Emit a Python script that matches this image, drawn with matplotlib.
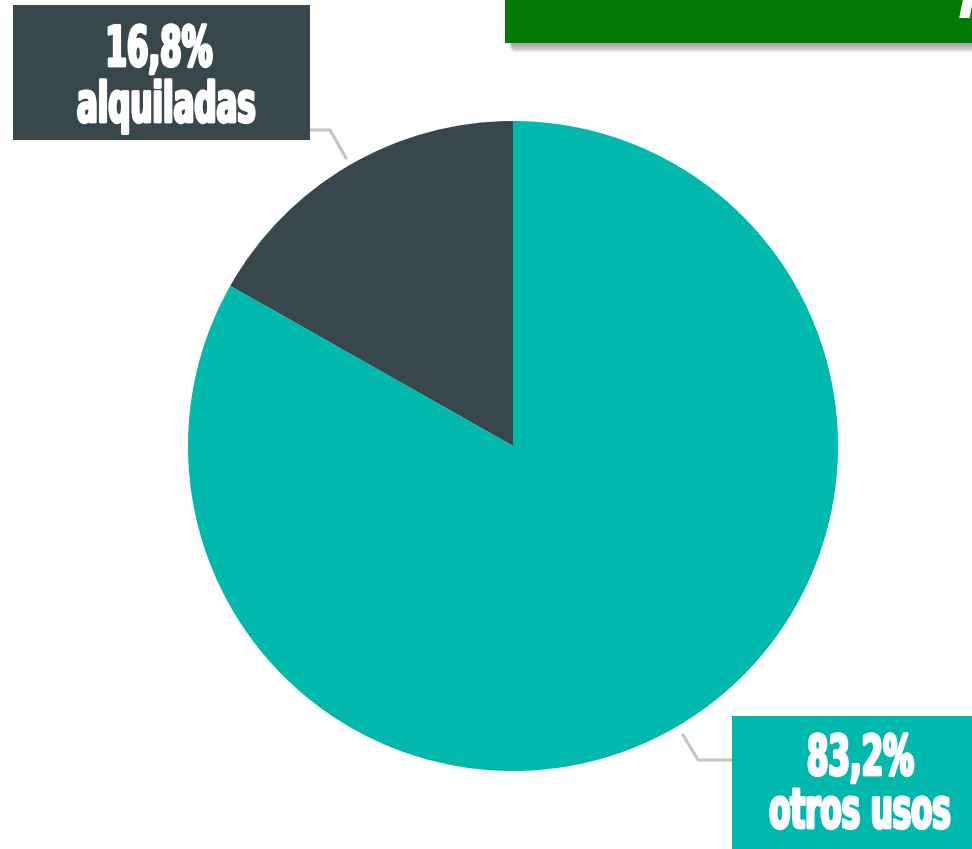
import matplotlib
matplotlib.use("Agg")
import matplotlib.pyplot as plt
from matplotlib.patches import Rectangle
from matplotlib.transforms import Affine2D
import matplotlib.patheffects as pe

labels = ["alquiladas", "otros usos"]
shares = [16.8, 83.2]
colors = ["#37474B", "#00B8AC"]
banner_color = "#007A00"

W, H = 972, 849
fig = plt.figure(figsize=(W / 100, H / 100), dpi=100)
ax = fig.add_axes([0, 0, 1, 1])


def Y(py):
    return H - py


class Condensed(pe.AbstractPathEffect):
    """Squeeze glyph outlines horizontally (around each line's centre) and embolden them."""

    def __init__(self, sx=0.58, sy=1.0, stroke=1.2):
        super().__init__()
        self.sx, self.sy, self.stroke = sx, sy, stroke

    def draw_path(self, renderer, gc, tpath, affine, rgbFace=None):
        ext = tpath.get_extents()
        cx = (ext.x0 + ext.x1) / 2
        squeeze = Affine2D().translate(-cx, 0).scale(self.sx, self.sy).translate(cx, 0)
        gc0 = renderer.new_gc()
        gc0.copy_properties(gc)
        gc0.set_linewidth(self.stroke)
        gc0.set_foreground(rgbFace if rgbFace is not None else "white")
        gc0.set_joinstyle("round")
        renderer.draw_path(gc0, tpath, squeeze + affine, rgbFace)
        gc0.restore()


# pie
ax.pie(shares, colors=colors, startangle=90, counterclock=True,
       center=(513, Y(446)), radius=325, frame=True,
       wedgeprops=dict(linewidth=0))
ax.set_xlim(0, W)
ax.set_ylim(0, H)
ax.axis("off")

# header banner with soft shadow
for i in range(10):
    ax.add_patch(Rectangle((505 + 3 + i * 0.5, Y(43) - 2 - i * 0.9), W, 43,
                           color="#000000", alpha=0.04, lw=0, zorder=4))
ax.add_patch(Rectangle((505, Y(43)), W - 505, 43, color=banner_color, lw=0, zorder=5))
ax.text(958, Y(18), "I", family="DejaVu Sans", weight="bold", style="italic",
        fontsize=40, color="white", ha="left", va="baseline", zorder=6,
        clip_on=True)

# leader lines
line_kw = dict(color="#C4C4C4", lw=2.2, solid_joinstyle="miter", zorder=3)
ax.plot([346, 330, 300], [Y(158), Y(130), Y(130)], **line_kw)
ax.plot([683, 698, 740], [Y(735), Y(760), Y(760)], **line_kw)

font = dict(family="DejaVu Sans", weight="bold", color="white",
            ha="center", va="baseline", fontsize=39, zorder=7)
fx = [Condensed(sx=0.57, sy=1.03, stroke=2.0)]


def label_box(x0, y0, x1, y1, color, pct, name, pct_xy, name_xy):
    ax.add_patch(Rectangle((x0, Y(y1)), x1 - x0, y1 - y0, color=color, lw=0, zorder=6))
    ax.text(pct_xy[0], Y(pct_xy[1]), pct, path_effects=fx, **font)
    ax.text(name_xy[0], Y(name_xy[1]), name, path_effects=fx, **font)


label_box(13, 5, 310, 140, colors[0], f"{shares[0]:.1f}%".replace(".", ","), labels[0],
          (158, 66), (166, 122))
label_box(732, 716, 980, 856, colors[1], f"{shares[1]:.1f}%".replace(".", ","), labels[1],
          (860, 775), (860, 828))

fig.savefig("out.png", dpi=100)
